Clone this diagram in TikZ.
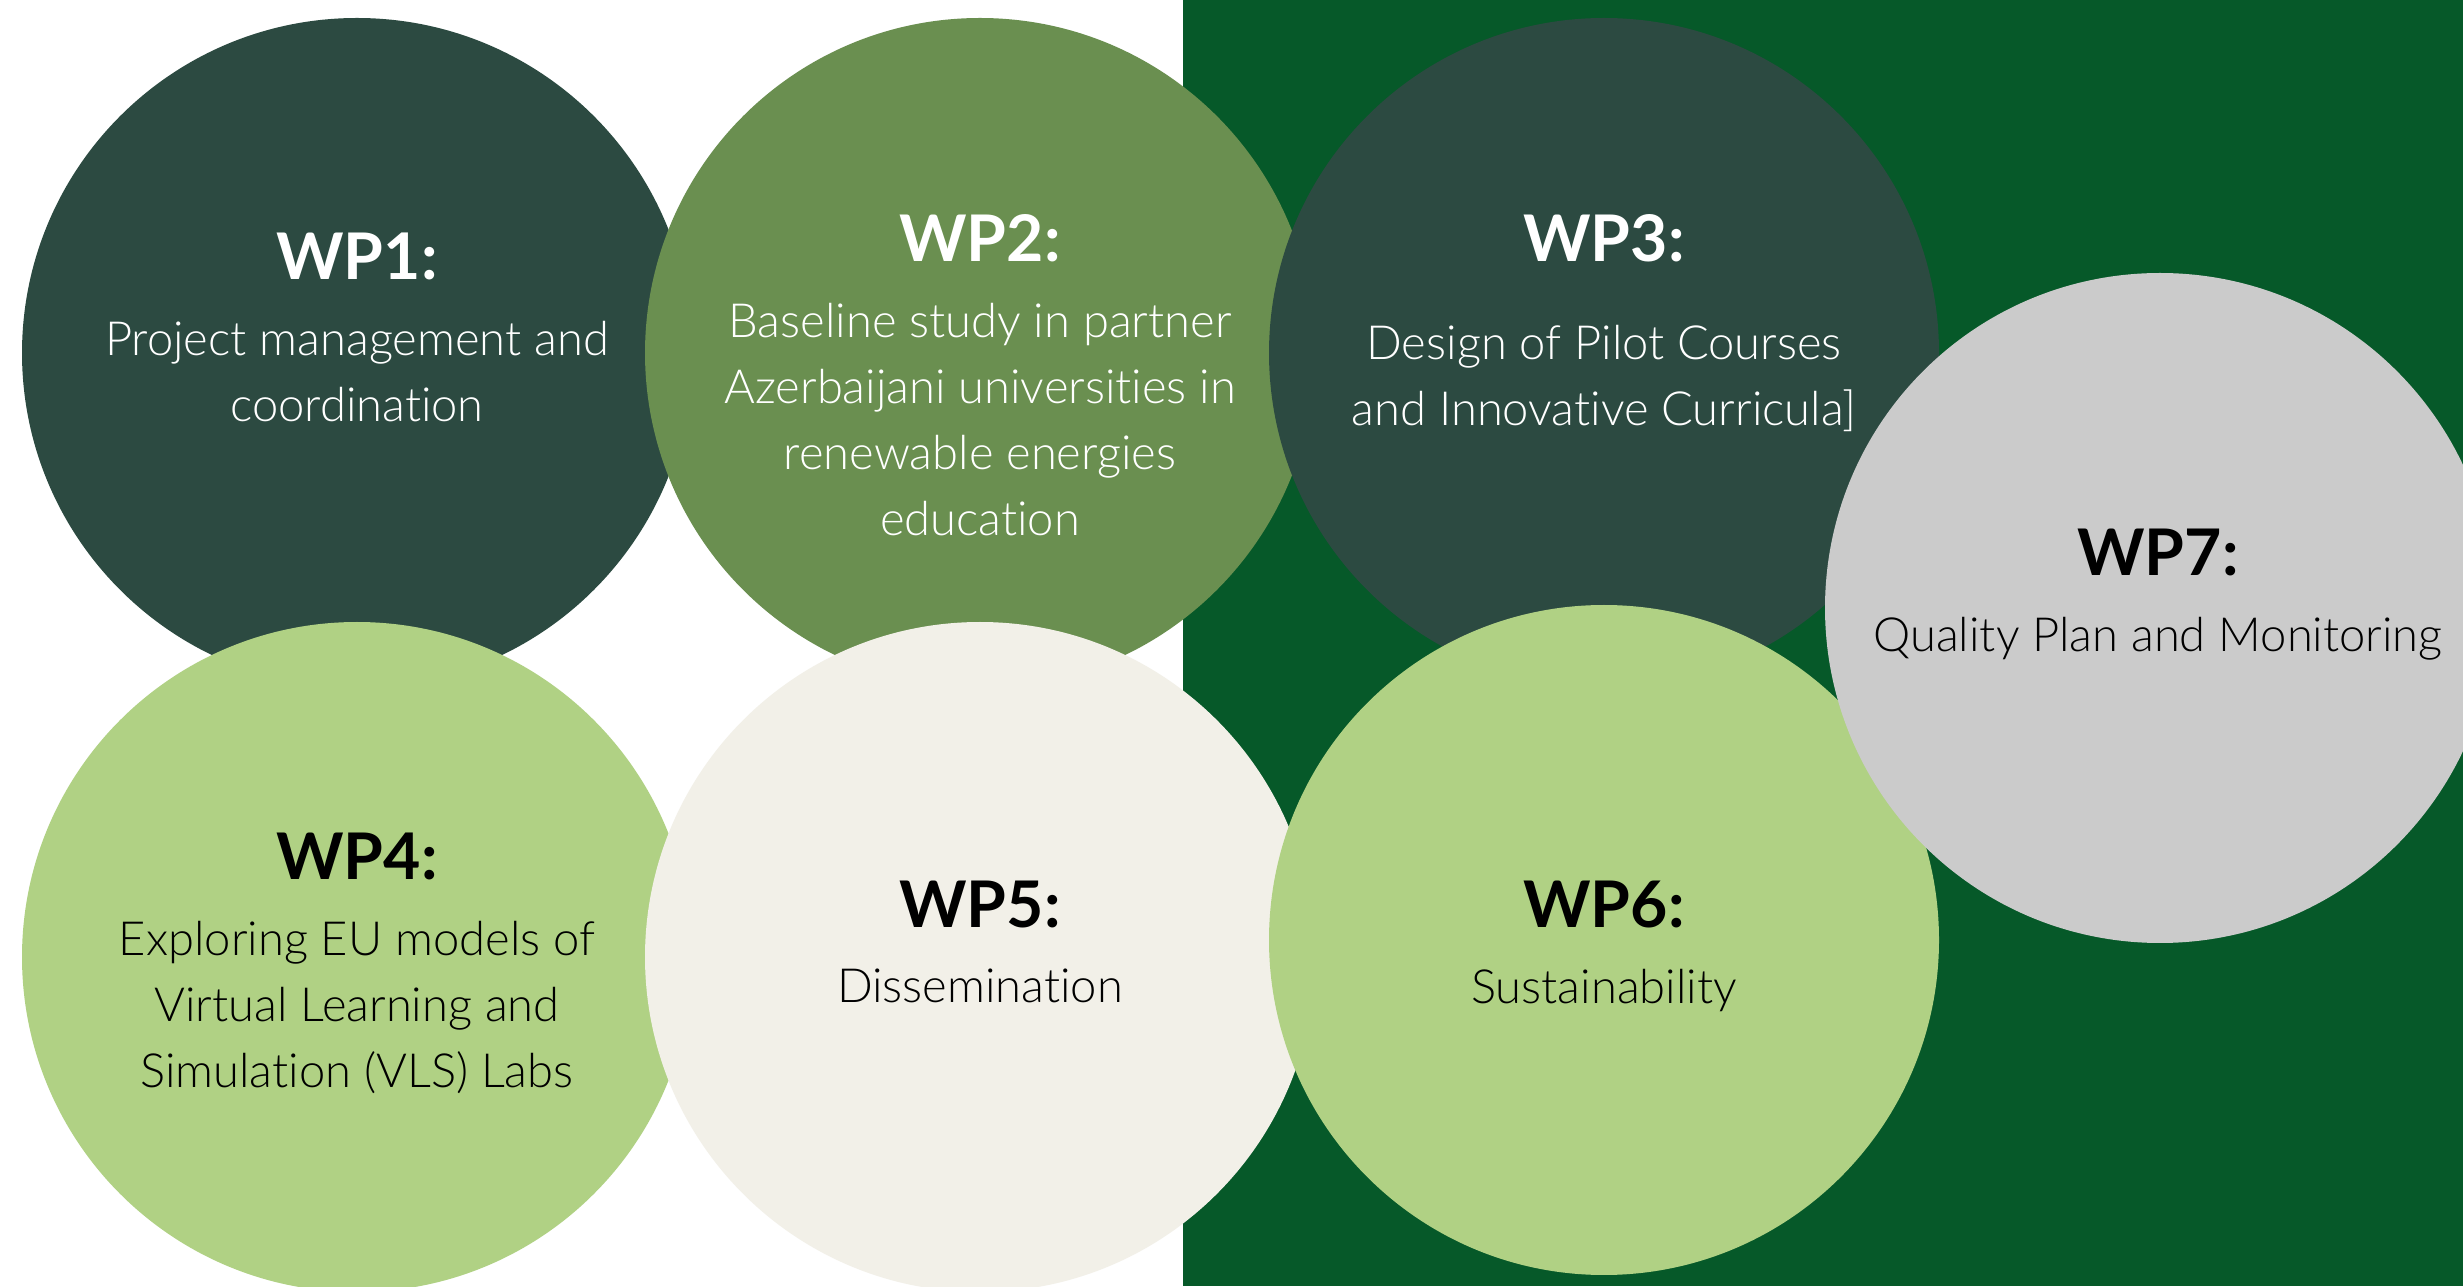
\documentclass[tikz,border=0pt]{standalone}
\usepackage{fontspec}
\setmainfont{Lato}[UprightFont=* Light, BoldFont=* Bold, Ligatures=NoCommon]
\usetikzlibrary{positioning}
\definecolor{pine}{HTML}{2C4A41}
\definecolor{forest}{HTML}{065929}
\definecolor{olive}{HTML}{6A8F50}
\definecolor{lime}{HTML}{B0D184}
\definecolor{cream}{HTML}{F2F0E8}
\definecolor{stone}{HTML}{CBCBCB}

\begin{document}
\begin{tikzpicture}[x=0.1mm, y=0.1mm,
    wp/.style={circle, minimum size=67mm, inner sep=0pt},
    wphead/.style={inner sep=0pt, anchor=base, font=\bfseries\fontsize{18.3}{22}\selectfont},
    wpbody/.style={inner sep=0pt, align=center, font=\fontsize{13.4}{18.8}\selectfont}]
    \clip (0,0) rectangle (2463,1286);
    \fill[white] (0,0) rectangle (2463,1286);
    \fill[forest] (1183,0) rectangle (2463,1286);
    % top row
    \node[wp, fill=pine] (C1) at (357,933) {};
    \node[wphead, white] (H1) at (357,1006) {WP1:};
    \node[wpbody, white, below=0.39cm of H1] (B1) {Project management and\\coordination};
    \node[wp, fill=olive] (C2) at (980,933) {};
    \node[wphead, white] (H2) at (980,1024) {WP2:};
    \node[wpbody, white, below=0.39cm of H2] (B2) {Baseline study in partner\\Azerbaijani universities in\\renewable energies\\education};
    \node[wp, fill=pine] (C3) at (1604,933) {};
    \node[wphead, white] (H3) at (1604,1024) {WP3:};
    \node[wpbody, white, below=0.61cm of H3] (B3) {Design of Pilot Courses\\and Innovative Curricula]};
    % bottom row
    \node[wp, fill=lime] (C4) at (357,329) {};
    \node[wphead] (H4) at (357,406) {WP4:};
    \node[wpbody, below=0.39cm of H4] (B4) {Exploring EU models of\\Virtual Learning and\\Simulation (VLS) Labs};
    \node[wp, fill=cream] (C5) at (980,329) {};
    \node[wphead] (H5) at (980,358) {WP5:};
    \node[wpbody, below=0.39cm of H5] (B5) {Dissemination};
    \node[wp, fill=lime] (C6) at (1604,346) {};
    \node[wphead] (H6) at (1604,358) {WP6:};
    \node[wpbody, below=0.39cm of H6] (B6) {Sustainability};
    % right
    \node[wp, fill=stone] (C7) at (2160,678) {};
    \node[wphead] (H7) at (2158,710) {WP7:};
    \node[wpbody, below=0.39cm of H7] (B7) {Quality Plan and Monitoring};
\end{tikzpicture}
\end{document}
